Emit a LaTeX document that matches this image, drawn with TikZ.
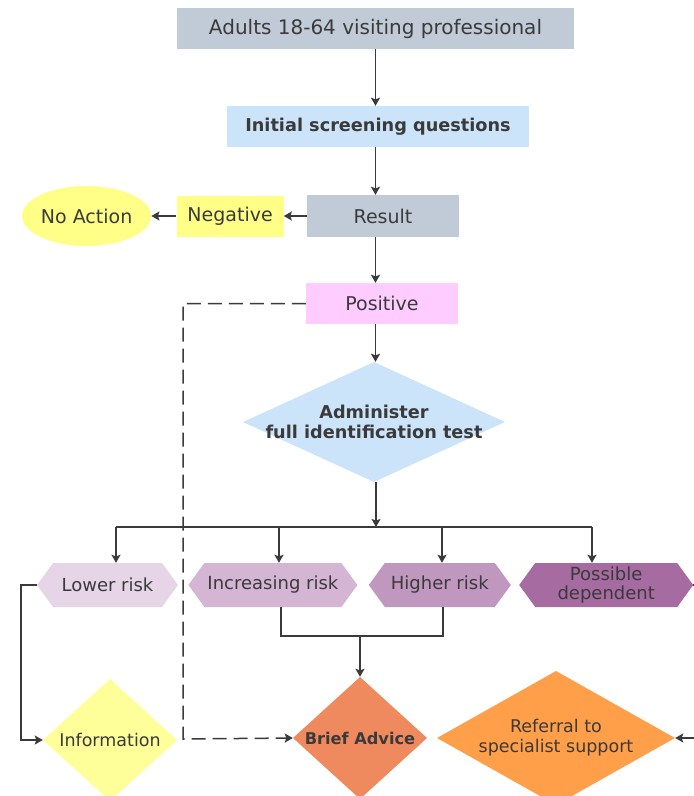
\documentclass[tikz,border=0pt]{standalone}
\usepackage{fontspec}
\setmainfont{DejaVu Sans}
\usetikzlibrary{arrows.meta,positioning,shapes.geometric}
\definecolor{ink}{HTML}{3A3A3A}
\definecolor{slate}{HTML}{C0CBD7}
\definecolor{sky}{HTML}{CCE4FA}
\definecolor{lemon}{HTML}{FFFF88}
\definecolor{blush}{HTML}{FFCCFF}
\definecolor{riskA}{HTML}{E6D5E6}
\definecolor{riskB}{HTML}{D4B5D4}
\definecolor{riskC}{HTML}{BF97BF}
\definecolor{riskD}{HTML}{A66BA0}
\definecolor{infofill}{HTML}{FFFF99}
\definecolor{advice}{HTML}{EE8A5E}
\definecolor{referral}{HTML}{FF9F4A}
\tikzset{
    box/.style = {
        rectangle,
        inner sep=0pt,
        minimum height=41pt,
        text=ink,
        font=\fontsize{19}{22}\selectfont,
        },
    strong/.style = {
        font=\fontsize{17.7}{20}\selectfont\bfseries,
        },
    risk/.style = {
        rectangle,
        inner sep=0pt,
        minimum height=44pt,
        text=ink,
        align=center,
        font=\fontsize{18}{19}\selectfont,
        path picture = {
            \fill[#1] (path picture bounding box.west)
                -- ([xshift=16pt]path picture bounding box.north west)
                -- ([xshift=-16pt]path picture bounding box.north east)
                -- (path picture bounding box.east)
                -- ([xshift=-16pt]path picture bounding box.south east)
                -- ([xshift=16pt]path picture bounding box.south west)
                -- cycle;
            },
        },
    outcome/.style = {
        rectangle,
        inner sep=0pt,
        text=ink,
        align=center,
        font=\fontsize{17.5}{20}\selectfont,
        path picture = {
            \fill[#1] (path picture bounding box.west)
                -- (path picture bounding box.north)
                -- (path picture bounding box.east)
                -- (path picture bounding box.south)
                -- cycle;
            },
        },
    flow/.style = {
        draw=ink,
        line width=1.5pt,
        },
    maybe/.style = {
        dash pattern=on 14pt off 7pt,
        },
}

\begin{document}
\begin{tikzpicture}[x=1pt, y=-1pt, >={Stealth[length=8pt,width=9pt,inset=1.5pt]}]
            \useasboundingbox (0,0) rectangle (694,796);

            \node[box, fill=slate, minimum width=397pt, font=\fontsize{20}{22}\selectfont] (top) at (375.5,28.5) {Adults 18-64 visiting professional};
            \node[box, strong, fill=sky, minimum width=302pt] (init) at (378,126.5) {Initial screening questions};
            \node[box, fill=slate, minimum width=152pt, minimum height=42pt] (result) at (383,216) {Result};
            \node[box, fill=lemon, minimum width=107pt, left=23pt of result] (negative) {Negative};
            \node[ellipse, fill=lemon, text=ink, inner sep=0pt, minimum width=127pt, minimum height=60pt,
                font=\fontsize{19}{22}\selectfont, left=25pt of negative] (noaction) {No Action};
            \node[box, fill=blush, minimum width=152pt] (positive) at (382,303.5) {Positive};
            \node[outcome=sky, strong, minimum width=262pt, minimum height=120pt] (admin) at (374,422) {Administer\\full identification test};

            % risk levels
            \node[risk=riskA, minimum width=141pt] (low) at (107.5,585) {Lower risk};
            \node[risk=riskB, minimum width=169pt, right=10pt of low] (inc) {Increasing risk};
            \node[risk=riskC, minimum width=142pt, right=11pt of inc] (high) {Higher risk};
            \node[risk=riskD, minimum width=174pt, right=8pt of high] (poss) {Possible\\dependent};

            % interventions
            \node[outcome=infofill, minimum width=134pt, minimum height=122pt] (info) at (110,740) {Information};
            \node[outcome=advice, font=\fontsize{16.2}{20}\selectfont\bfseries, minimum width=134pt, minimum height=122pt] (brief) at (360,738) {Brief Advice};
            \node[outcome=referral, minimum width=238pt, minimum height=134pt] (refer) at (556,738) {Referral to\\specialist support};

            \coordinate (split) at (376,527);
            \coordinate (b1) at (116,527);
            \coordinate (b2) at (279,527);
            \coordinate (b3) at (442,527);
            \coordinate (b4) at (592,527);
            \coordinate (j1) at (281,636);
            \coordinate (j2) at (443,636);
            \coordinate (dash) at (183,739);

            \draw[flow, ->] (top.south -| top) -- (init.north -| top);
            \draw[flow, ->] (init.south -| top) -- (result.north -| top);
            \draw[flow, ->] (result.west) -- (result.west -| negative.east);
            \draw[flow, ->] (negative.west) -- (negative.west -| noaction.east);
            \draw[flow, ->] (result.south -| top) -- (positive.north -| top);
            \draw[flow, ->] (positive.south -| top) -- (admin.north -| top);
            \draw[flow, ->] (admin.south -| split) -- (split);
            \draw[flow] (b1) -- (b4);
            \draw[flow, ->] (b1) -- (b1 |- low.north);
            \draw[flow, ->] (b2) -- (b2 |- inc.north);
            \draw[flow, ->] (b3) -- (b3 |- high.north);
            \draw[flow, ->] (b4) -- (b4 |- poss.north);
            \draw[flow] (j1 |- inc.south) -- (j1) -- (j2) -- (j2 |- high.south);
            \draw[flow, ->] (brief.north |- j1) -- (brief.north);
            \draw[flow, ->] (low.west) -- ++(-16,0) |- (info.west);
            \draw[flow, maybe, ->] (positive.west) -| (dash) -- (brief.west);
            \draw[flow, ->] (poss.east) -- ++(14,0) |- (refer.east);
        \end{tikzpicture}
\end{document}
